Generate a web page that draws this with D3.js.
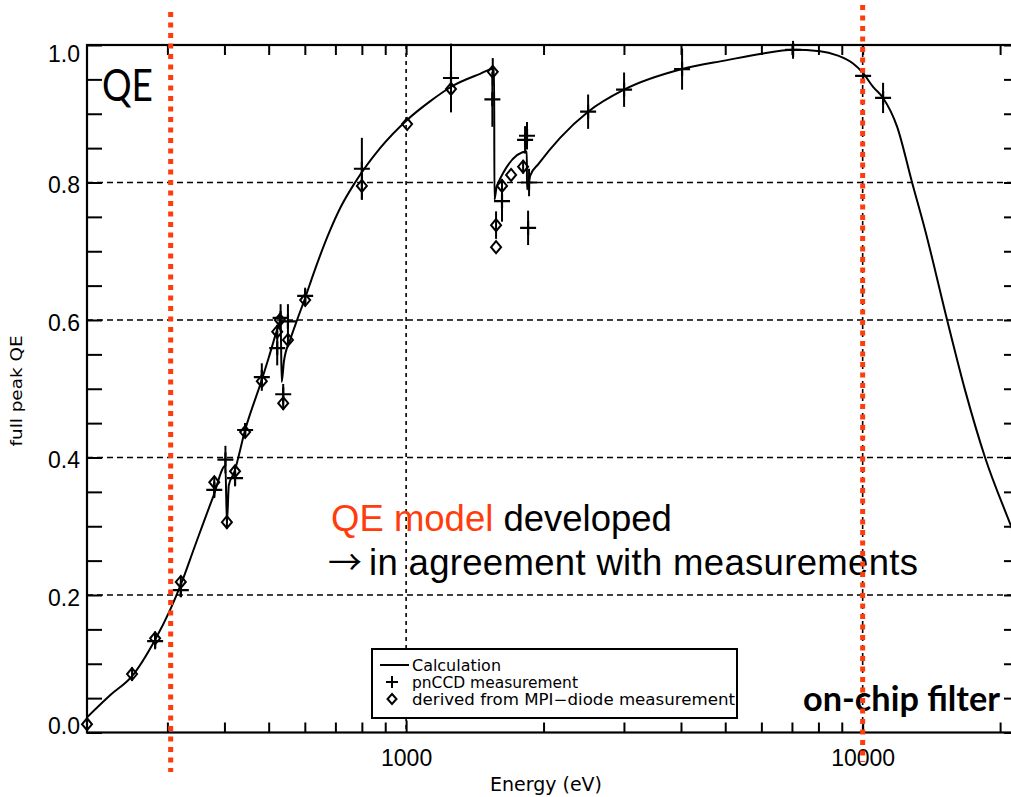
<!DOCTYPE html>
<html>
<head>
<meta charset="utf-8">
<script src="https://cdn.jsdelivr.net/npm/d3@7"></script>
<style>
  html, body { margin: 0; padding: 0; background: #fff; overflow: hidden; }
  svg { display: block; }
</style>
</head>
<body>
<svg id="chart" width="1011" height="797"></svg>
<script>
// Calculated full-peak quantum efficiency (energy in eV)
const calcEnergy = [200, 225, 251, 282, 304, 321, 345, 378, 402, 405, 409, 420, 444, 483, 500, 525, 531, 534, 540, 557, 577, 601, 625, 681, 720, 773, 877, 1005, 1128, 1261, 1452, 1559, 1561, 1580, 1838, 1840, 1870, 1950, 2174, 2504, 3002, 4022, 5046, 5961, 7039, 8068, 8790, 9528, 10022, 10540, 11084, 11900, 12830, 13700, 15310, 16760, 18540, 21140, 22000];
const calcQE     = [0.022, 0.0545, 0.082, 0.135, 0.178, 0.215, 0.272, 0.343, 0.388, 0.305, 0.36, 0.378, 0.44, 0.513, 0.545, 0.591, 0.600, 0.51, 0.54, 0.571, 0.600, 0.632, 0.665, 0.730, 0.765, 0.800, 0.850, 0.891, 0.918, 0.94, 0.958, 0.966, 0.775, 0.795, 0.845, 0.79, 0.81, 0.827, 0.865, 0.903, 0.935, 0.965, 0.978, 0.987, 0.993, 0.991, 0.985, 0.973, 0.959, 0.939, 0.923, 0.881, 0.8, 0.731, 0.6, 0.498, 0.4, 0.3, 0.27];

// pnCCD measurements with half error bar
const pnEnergy = [282, 321, 380, 402, 422, 444, 483, 522, 531, 538, 551, 601, 800, 1254, 1545, 1622, 1822, 1840, 1859, 1850, 2504, 3002, 4022, 7039, 10022, 11084];
const pnQE     = [0.133, 0.207, 0.353, 0.397, 0.37, 0.44, 0.517, 0.559, 0.603, 0.492, 0.598, 0.635, 0.82, 0.952, 0.921, 0.773, 0.862, 0.868, 0.80, 0.734, 0.903, 0.935, 0.965, 0.993, 0.955, 0.923];
const pnErr    = [0.012, 0.01, 0.012, 0.02, 0.012, 0.01, 0.02, 0.025, 0.02, 0.015, 0.025, 0.012, 0.045, 0.05, 0.04, 0.03, 0.02, 0.02, 0.02, 0.025, 0.025, 0.025, 0.03, 0.013, 0.008, 0.022];

// Values derived from the MPI diode measurement
const diodeEnergy = [200, 251, 282, 321, 380, 405, 422, 444, 483, 522, 529, 538, 551, 601, 800, 1005, 1254, 1548, 1574, 1574, 1622, 1698, 1804];
const diodeQE     = [0.012, 0.085, 0.137, 0.219, 0.364, 0.306, 0.38, 0.437, 0.511, 0.583, 0.6, 0.479, 0.571, 0.629, 0.795, 0.885, 0.936, 0.961, 0.738, 0.706, 0.795, 0.811, 0.823];
const diodeErr    = [0, 0.01, 0.01, 0.008, 0.008, 0.01, 0.008, 0.006, 0.008, 0.01, 0.01, 0.01, 0.01, 0.008, 0.02, 0, 0.03, 0.02, 0.02, 0, 0.01, 0, 0.01];

// Axis ticks
const xMajorTicks = [1000, 10000];
const xMinorTicks = [300, 400, 500, 600, 700, 800, 900, 2000, 3000, 4000, 5000, 6000, 7000, 8000, 9000, 20000];
const yMajorTicks = [0, 0.2, 0.4, 0.6, 0.8, 1.0];
const yMinorTicks = [0.05, 0.1, 0.15, 0.25, 0.3, 0.35, 0.45, 0.5, 0.55, 0.65, 0.7, 0.75, 0.85, 0.9, 0.95];
const yGrid = [0.2, 0.4, 0.6, 0.8];

// Energies marked by the red dotted lines
const markEnergy = [305, 10000];

const legendItems = ["Calculation", "pnCCD measurement", "derived from MPI\u2212diode measurement"];

const RED = "#ff3c0c";
const svg = d3.select("#chart");

const x = d3.scaleLog().domain([200, 22000]).range([87, 1019]);
const y = d3.scaleLinear().domain([0, 1]).range([732.5, 45]);
const [x0, x1] = x.range();
const [yb, yt] = y.range();

svg.append("defs").append("clipPath").attr("id", "plotClip")
  .append("rect").attr("x", x0).attr("y", yt).attr("width", x1 - x0).attr("height", yb - yt);

// Dashed grid
const grid = svg.append("g").attr("stroke", "#000").attr("stroke-width", 1.6).attr("stroke-dasharray", "6 4");
grid.selectAll("line.h").data(yGrid).join("line").attr("class", "h")
  .attr("x1", x0).attr("x2", x1).attr("y1", d => y(d)).attr("y2", d => y(d));
grid.selectAll("line.v").data(xMajorTicks).join("line").attr("class", "v")
  .attr("stroke-dasharray", "4 4")
  .attr("x1", d => x(d)).attr("x2", d => x(d)).attr("y1", yt).attr("y2", yb);

// Calculated curve
const calc = calcEnergy.map((e, i) => [e, calcQE[i]]);
svg.append("path")
  .attr("clip-path", "url(#plotClip)")
  .attr("d", d3.line().x(d => x(d[0])).y(d => y(d[1])).curve(d3.curveMonotoneX)(calc))
  .attr("fill", "none").attr("stroke", "#000").attr("stroke-width", 2);

// Error bars
const pn = pnEnergy.map((e, i) => ({e, q: pnQE[i], err: pnErr[i]}));
const di = diodeEnergy.map((e, i) => ({e, q: diodeQE[i], err: diodeErr[i]}));
const bars = svg.append("g").attr("stroke", "#000").attr("stroke-width", 2);
bars.selectAll("line").data(pn.concat(di).filter(d => d.err > 0)).join("line")
  .attr("x1", d => x(d.e)).attr("x2", d => x(d.e))
  .attr("y1", d => y(d.q + d.err)).attr("y2", d => y(d.q - d.err));

// Markers
const plusPath = "M-8,0H8M0,-7V7";
const diamondPath = "M0,-6L5,0L0,6L-5,0Z";
svg.append("g").selectAll("path").data(pn).join("path")
  .attr("transform", d => `translate(${x(d.e)},${y(d.q)})`)
  .attr("d", plusPath).attr("fill", "none").attr("stroke", "#000").attr("stroke-width", 2.2);
svg.append("g").selectAll("path").data(di).join("path")
  .attr("transform", d => `translate(${x(d.e)},${y(d.q)})`)
  .attr("d", diamondPath).attr("fill", "none").attr("stroke", "#000").attr("stroke-width", 2);

// Axes (inward ticks)
function styleAxis(g) {
  g.select(".domain").remove();
  g.selectAll(".tick line").attr("stroke", "#000").attr("stroke-width", 2);
  g.attr("font-family", "'Liberation Sans', Arial, sans-serif").attr("font-size", 23);
  g.selectAll(".tick text").attr("fill", "#000");
}
svg.append("g").attr("transform", `translate(0,${yb})`)
  .call(d3.axisBottom(x).tickValues(xMinorTicks).tickSizeInner(-10).tickSizeOuter(0).tickFormat(""))
  .call(styleAxis);
svg.append("g").attr("transform", `translate(0,${yb})`)
  .call(d3.axisBottom(x).tickValues(xMajorTicks).tickSizeInner(-12).tickSizeOuter(0).tickPadding(17).tickFormat(d3.format("d")))
  .call(styleAxis);
svg.append("g").attr("transform", `translate(0,${yt})`)
  .call(d3.axisTop(x).tickValues(xMinorTicks.concat(xMajorTicks)).tickSizeInner(-10).tickSizeOuter(0).tickFormat(""))
  .call(styleAxis);
svg.append("g").attr("transform", `translate(${x0},0)`)
  .call(d3.axisLeft(y).tickValues(yMinorTicks).tickSizeInner(-15).tickSizeOuter(0).tickFormat(""))
  .call(styleAxis);
const yAxisG = svg.append("g").attr("transform", `translate(${x0},0)`)
  .call(d3.axisLeft(y).tickValues(yMajorTicks).tickSizeInner(-15).tickSizeOuter(0).tickPadding(7).tickFormat(d3.format(".1f")))
  .call(styleAxis);
yAxisG.selectAll(".tick text").attr("dy", d => d === 1 ? "16px" : d === 0 ? "1px" : "10px");
svg.append("g").attr("transform", `translate(${x1},0)`)
  .call(d3.axisRight(y).tickValues(yMinorTicks.concat(yMajorTicks)).tickSizeInner(-15).tickSizeOuter(0).tickFormat(""))
  .call(styleAxis);

// Frame
svg.append("rect").attr("x", x0).attr("y", yt).attr("width", x1 - x0).attr("height", yb - yt)
  .attr("fill", "none").attr("stroke", "#000").attr("stroke-width", 2.2);

// Axis titles
svg.append("text").attr("x", 546).attr("y", 791).attr("text-anchor", "middle")
  .attr("font-family", "'DejaVu Sans', sans-serif").attr("font-size", 19)
  .attr("textLength", 112).attr("lengthAdjust", "spacingAndGlyphs")
  .text("Energy (eV)");
svg.append("text").attr("transform", "translate(22,391) rotate(-90)").attr("text-anchor", "middle")
  .attr("font-family", "'DejaVu Sans', sans-serif").attr("font-size", 16)
  .attr("textLength", 111).attr("lengthAdjust", "spacingAndGlyphs")
  .text("full peak QE");

// Legend
const lg = svg.append("g");
lg.append("rect").attr("x", 372).attr("y", 649).attr("width", 365).attr("height", 69)
  .attr("fill", "#fff").attr("stroke", "#000").attr("stroke-width", 2);
const legendW = [89, 166, 323];
lg.selectAll("text").data(legendItems).join("text")
  .attr("x", 412).attr("y", (d, i) => 671 + i * 17)
  .attr("font-family", "'DejaVu Sans', sans-serif").attr("font-size", 15)
  .attr("textLength", (d, i) => legendW[i]).attr("lengthAdjust", "spacingAndGlyphs")
  .text(d => d);
lg.append("line").attr("x1", 380).attr("x2", 409).attr("y1", 665).attr("y2", 665)
  .attr("stroke", "#000").attr("stroke-width", 2);
lg.append("path").attr("transform", "translate(392,682)").attr("d", "M-6,0H6M0,-6V6")
  .attr("fill", "none").attr("stroke", "#000").attr("stroke-width", 2);
lg.append("path").attr("transform", "translate(392,699)").attr("d", "M0,-5L4.5,0L0,5L-4.5,0Z")
  .attr("fill", "none").attr("stroke", "#000").attr("stroke-width", 2);

// Annotations
svg.append("text").attr("x", 102).attr("y", 101)
  .attr("font-family", "Lato, 'Open Sans', sans-serif").attr("font-size", 44)
  .attr("textLength", 51).attr("lengthAdjust", "spacingAndGlyphs")
  .text("QE");

const note = svg.append("g").attr("font-family", "'Liberation Sans', Arial, sans-serif").attr("font-size", 36.5);
const l1 = note.append("text").attr("x", 331).attr("y", 531);
l1.append("tspan").attr("fill", RED).text("QE model");
l1.append("tspan").attr("fill", "#000").text(" developed");
note.append("text").attr("x", 328).attr("y", 575)
  .attr("font-family", "'Noto Sans CJK JP', 'DejaVu Sans', sans-serif").attr("font-size", 34)
  .text("\u2192");
note.append("text").attr("x", 369).attr("y", 575)
  .attr("textLength", 549).attr("lengthAdjust", "spacing")
  .text("in agreement with measurements");

svg.append("text").attr("x", 803).attr("y", 711)
  .attr("font-family", "Lato, 'Open Sans', sans-serif").attr("font-weight", "bold").attr("font-size", 34)
  .attr("textLength", 197).attr("lengthAdjust", "spacingAndGlyphs")
  .text("on-chip filter");

// Red dotted markers
const markTop = [12, 5], markBottom = [772, 762];
svg.append("g").selectAll("line").data(markEnergy).join("line")
  .attr("x1", d => x(d)).attr("x2", d => x(d))
  .attr("y1", (d, i) => markTop[i]).attr("y2", (d, i) => markBottom[i])
  .attr("stroke", RED).attr("stroke-width", 5).attr("stroke-dasharray", "5 5.5");
</script>
</body>
</html>
